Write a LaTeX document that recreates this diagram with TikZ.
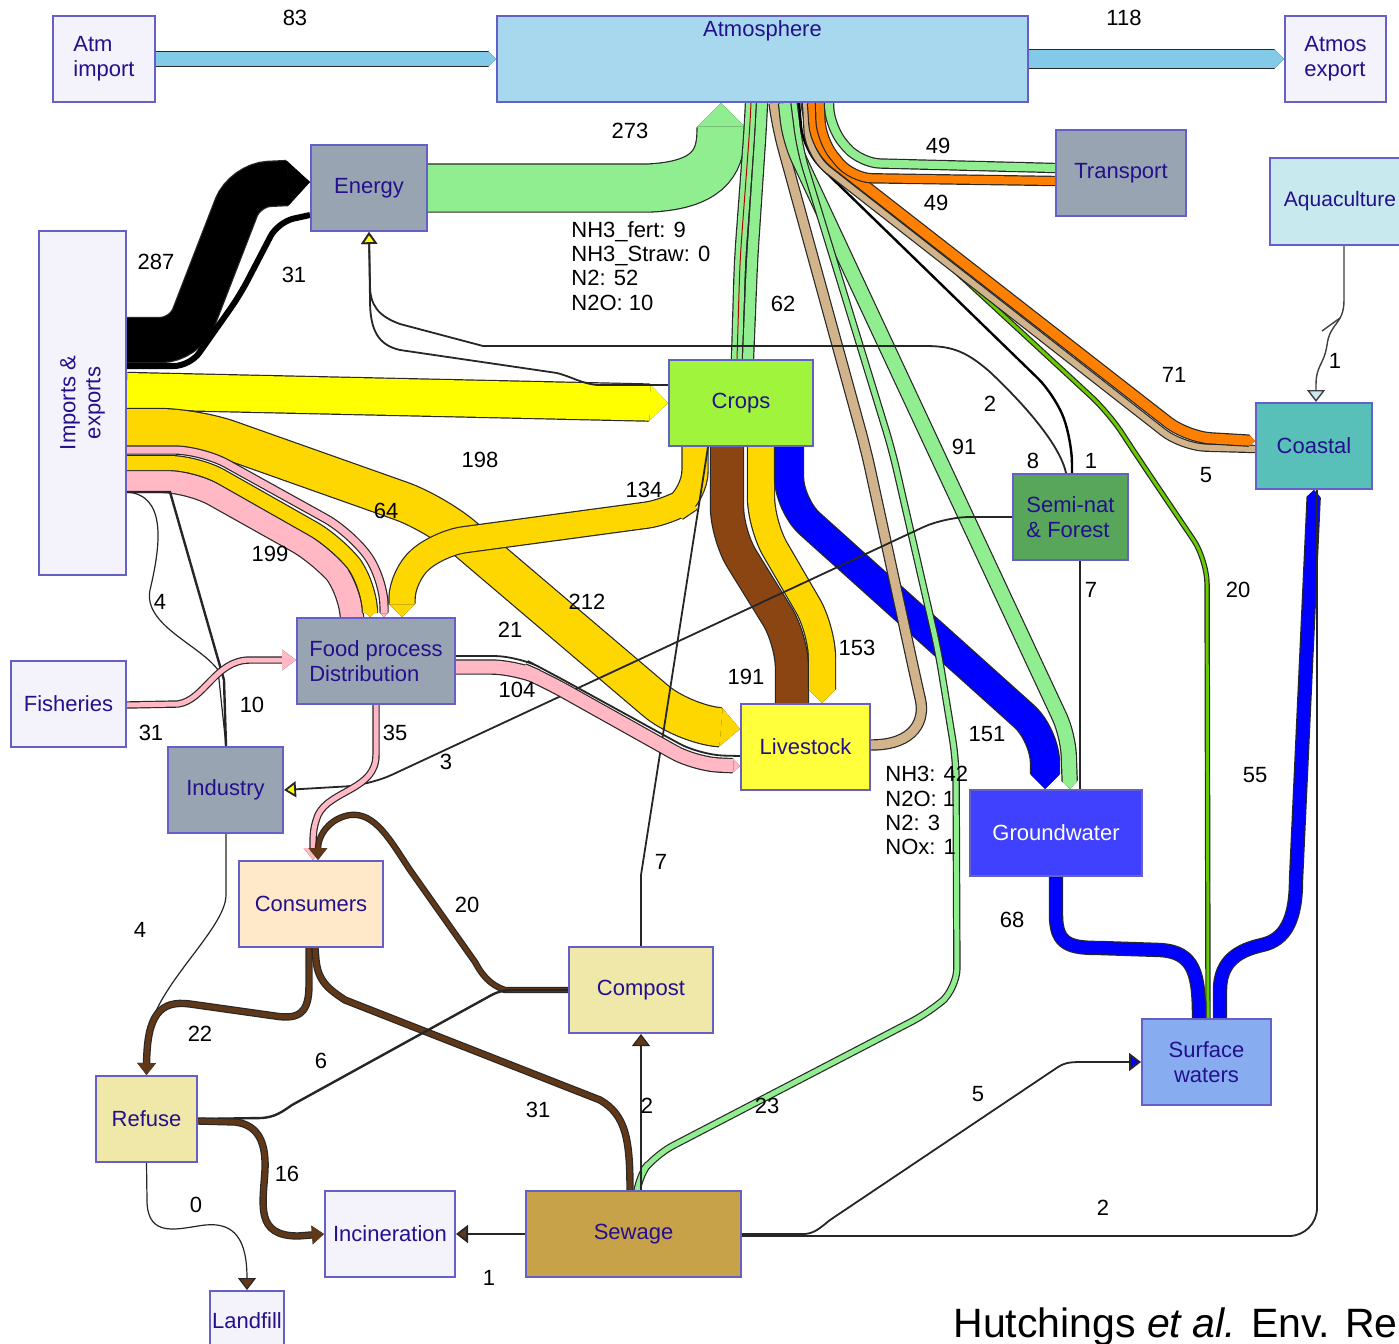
\documentclass[tikz,border=0pt]{standalone}
\usepackage{fontspec}
\setmainfont{Liberation Sans}
\usetikzlibrary{arrows.meta}
\newcommand{\fsz}{\fontsize{11}{12.5}\selectfont}
\definecolor{bordc}{RGB}{100,96,200}
\definecolor{txtc}{RGB}{36,16,140}
\definecolor{lav}{RGB}{244,242,250}
\definecolor{atmf}{RGB}{168,216,238}
\definecolor{grayf}{RGB}{152,164,178}
\definecolor{aquaf}{RGB}{200,234,238}
\definecolor{cropf}{RGB}{160,245,60}
\definecolor{coastf}{RGB}{88,192,184}
\definecolor{semif}{RGB}{88,166,90}
\definecolor{livef}{RGB}{255,255,60}
\definecolor{gwf}{RGB}{64,64,255}
\definecolor{consf}{RGB}{255,233,200}
\definecolor{compf}{RGB}{240,232,168}
\definecolor{surff}{RGB}{136,172,240}
\definecolor{sewf}{RGB}{200,162,72}
\definecolor{atmb}{RGB}{130,202,232}
\definecolor{lgr}{RGB}{144,238,144}
\definecolor{yel}{RGB}{255,255,0}
\definecolor{gld}{RGB}{255,215,0}
\definecolor{pnk}{RGB}{255,184,196}
\definecolor{brn}{RGB}{139,69,19}
\definecolor{blu}{RGB}{0,0,255}
\definecolor{tanc}{RGB}{210,180,140}
\definecolor{org}{RGB}{255,128,0}
\definecolor{ygr}{RGB}{102,204,0}
\definecolor{dbr}{RGB}{96,56,24}
\definecolor{edgec}{RGB}{40,40,40}
\pgfdeclarelayer{bg}
\pgfsetlayers{bg,main}
\begin{document}
\begin{tikzpicture}[x=0.5pt,y=-0.5pt,
 box/.style={draw=bordc, line width=1pt, text=txtc, font=\fsz, align=center, inner sep=1pt},
 num/.style={font=\fsz, text=black, inner sep=0pt},
 bnd/.style 2 args={draw=#1, line width=#2, preaction={draw=edgec, line width=#2+1.2pt}},
 bt/.style={-{Triangle[length=0pt 0.5, width=0pt 1, line width=0pt]}},
 thn/.style={draw=black!85, line width=0.9pt},
 yt/.style={-{Triangle[length=6pt, width=8pt, fill=yel]}},
 brt/.style={-{Triangle[length=6pt, width=9pt, fill=dbr]}}]
\useasboundingbox (0,0) rectangle (1399,1344);
\clip (0,0) rectangle (1399,1344);
% ---------- boxes ----------
\node[box, fill=lav, minimum width=51pt, minimum height=43pt, align=left] (atmimp) at (104,59) {Atm\\import};
\node[box, fill=atmf, minimum width=265.5pt, minimum height=43pt, label={[text=txtc, font=\fsz, anchor=center, yshift=-8pt]north:Atmosphere}] (atmos) at (762.5,59) {};
\node[box, fill=lav, minimum width=50.5pt, minimum height=43pt, align=left] (atmexp) at (1335.5,59) {Atmos\\export};
\node[box, fill=grayf, minimum width=58pt, minimum height=43pt] (energy) at (369,188) {Energy};
\node[box, fill=grayf, minimum width=65pt, minimum height=43pt] (transport) at (1121,173) {Transport};
\node[box, fill=aquaf, minimum width=70pt, minimum height=43.5pt, font=\fontsize{10.5}{12}\selectfont] (aqua) at (1340,201.5) {Aquaculture};
\node[box, fill=lav, minimum width=43.5pt, minimum height=172pt, label={[text=txtc, font=\fsz, rotate=90, align=center, anchor=center]center:{Imports \&\\exports}}] (imports) at (82.5,403) {};
\node[box, fill=cropf, minimum width=72pt, minimum height=43pt] (crops) at (741,403) {Crops};
\node[box, fill=coastf, minimum width=58pt, minimum height=43pt] (coastal) at (1314,446) {Coastal};
\node[box, fill=semif, minimum width=57.5pt, minimum height=43pt, align=left] (seminat) at (1070.5,517) {Semi-nat\\\& Forest};
\node[box, fill=grayf, minimum width=79pt, minimum height=43pt, align=left] (food) at (376,661) {Food process\\Distribution};
\node[box, fill=lav, minimum width=57.5pt, minimum height=43pt] (fisheries) at (68.5,704) {Fisheries};
\node[box, fill=livef, minimum width=64.5pt, minimum height=43pt] (livestock) at (805.5,747) {Livestock};
\node[box, fill=grayf, minimum width=57.5pt, minimum height=43pt] (industry) at (225.5,790) {Industry};
\node[box, fill=gwf, text=white, minimum width=86pt, minimum height=43pt] (groundwater) at (1056,833) {Groundwater};
\node[box, fill=consf, minimum width=72pt, minimum height=43pt] (consumers) at (311,904) {Consumers};
\node[box, fill=compf, minimum width=72pt, minimum height=43pt] (compost) at (641,990) {Compost};
\node[box, fill=surff, minimum width=64.5pt, minimum height=43pt] (surface) at (1206.5,1062) {Surface\\waters};
\node[box, fill=compf, minimum width=50.5pt, minimum height=43pt] (refuse) at (146.5,1119) {Refuse};
\node[box, fill=lav, minimum width=65pt, minimum height=43pt] (incin) at (390,1234) {Incineration};
\node[box, fill=sewf, minimum width=107.5pt, minimum height=43pt] (sewage) at (633.5,1234) {Sewage};
\node[box, fill=lav, minimum width=36pt, minimum height=30pt] (landfill) at (247,1321) {Landfill};
% ---------- flows ----------
\begin{pgfonlayer}{bg}
\fill[white] (0,0) rectangle (1399,1344);
% atmosphere import/export
\draw[bnd={atmb}{7pt}, bt] (atmimp.east) -- (atmos.west);
\draw[bnd={atmb}{9pt}, bt] (atmos.east) -- (atmexp.west);
% energy to atmosphere
\draw[bnd={lgr}{23.5pt}, bt] (energy.east) -- (650,188) .. controls (705,185) and (721,165) .. (721,132) -- (atmos.south -| 721,0);
% imports to energy
\draw[bnd={black}{22pt}, bt, rounded corners=12pt] (imports.east |- 0,340) -- (185,340) -- (245,185) -- (energy.west |- 0,182);
\draw[black, line width=3pt, rounded corners=8pt] (imports.east |- 0,366) -- (190,366) -- (240,295) -- (278,222) -- (energy.west |- 0,215);
% imports to crops
\draw[bnd={yel}{18pt}, bt] (imports.east |- 0,391) -- (crops.west |- 0,403);
% imports to livestock
\draw[bnd={gld}{19pt}, bt, rounded corners=18pt] (imports.east |- 0,428) -- (195,428) -- (435,513) -- (683,724) -- (livestock.west |- 0,729);
% imports to food
\draw[bnd={pnk}{11pt}, bt, rounded corners=14pt] (imports.east |- 0,481) -- (190,481) -- (322,555) -- (352,592) -- (food.north -| 352,0);
\draw[bnd={gld}{7pt}, bt, rounded corners=14pt] (imports.east |- 0,463) -- (197,463) -- (338,543) -- (370,585) -- (food.north -| 370,0);
\draw[bnd={pnk}{3.5pt}, bt, rounded corners=14pt] (imports.east |- 0,450) -- (202,450) -- (350,532) -- (384,578) -- (food.north -| 384,0);
% crops outputs
\draw[bnd={gld}{12.5pt}, bt, rounded corners=12pt] (crops.south -| 695,0) -- (695,495) -- (670,512) -- (440,543) -- (402,575) -- (food.north -| 402,0);
\draw[bnd={brn}{16pt}, rounded corners=14pt] (crops.south -| 727,0) -- (727,535) -- (792,640) -- (livestock.north -| 792,0);
\draw[bnd={gld}{13pt}, bt, rounded corners=14pt] (crops.south -| 761,0) -- (761,525) -- (822,630) -- (livestock.north -| 822,0);
\draw[bnd={blu}{14pt}, bt, rounded corners=14pt] (crops.south -| 789,0) -- (789,505) -- (1045,735) -- (groundwater.north -| 1045,0);
\draw[bnd={lgr}{5pt}, rounded corners=10pt] (crops.north -| 737,0) -- (740,260) -- (750,125) -- (atmos.south -| 751,0);
\draw[red!70!black, line width=0.5pt, rounded corners=10pt] (crops.north -| 737,0) -- (740,260) -- (750,125) -- (atmos.south -| 751,0);
\draw[bnd={lgr}{5pt}, rounded corners=10pt] (crops.north -| 748,0) -- (752,260) -- (761,125) -- (atmos.south -| 762,0);
% livestock to atmosphere
\draw[bnd={tanc}{4.5pt}, rounded corners=10pt] (livestock.east |- 0,745) .. controls (915,745) and (925,720) .. (916,680) -- (866,450) -- (778,130) -- (atmos.south -| 774,0);
% atmosphere deposition flows
\draw[bnd={lgr}{7pt}, bt, rounded corners=10pt] (atmos.south -| 786,0) -- (790,140) -- (1068,735) -- (groundwater.north -| 1070,0);
\draw[bnd={lgr}{2.5pt}, rounded corners=10pt] (atmos.south -| 794,0) -- (800,150) -- (892,450) -- (938,650) -- (956,760) -- (957,988) -- (930,1012) -- (655,1155) -- (636,1180) -- (sewage.north -| 636,0);
\draw[black, line width=1.2pt, rounded corners=12pt] (atmos.south -| 799,0) -- (803,150) -- (1055,395) -- (1072,440) -- (seminat.north -| 1072,0);
\draw[bnd={ygr}{1.5pt}, rounded corners=12pt] (atmos.south -| 803,0) -- (808,135) -- (1109,413) -- (1133,450) -- (1207,560) -- (1208,995) -- (surface.north -| 1208,0);
\draw[bnd={tanc}{3pt}, rounded corners=12pt] (atmos.south -| 806,0) -- (809,155) -- (1182,447) -- (coastal.west |- 0,449);
\draw[bnd={org}{5pt}, bt, rounded corners=12pt] (atmos.south -| 813,0) -- (816,148) -- (1187,437) -- (coastal.west |- 0,441);
\draw[bnd={org}{4pt}, rounded corners=10pt] (atmos.south -| 820,0) -- (821,140) -- (852,178) -- (transport.west |- 0,181);
\draw[bnd={lgr}{4pt}, rounded corners=10pt] (atmos.south -| 829,0) -- (830,128) -- (860,163) -- (transport.west |- 0,168);
% water flows
\draw[bnd={blu}{6pt}] (groundwater.south -| 1056,0) -- (1056,915) .. controls (1056,945) and (1070,948) .. (1100,948) -- (1160,950) .. controls (1195,952) and (1199,975) .. (surface.north -| 1199,0);
\draw[bnd={blu}{6pt}, bt] (surface.north -| 1220,0) -- (1220,990) .. controls (1220,960) and (1240,950) .. (1262,945) .. controls (1285,940) and (1296,920) .. (1296,880) -- (coastal.south);
% thin connectors
\draw[thn, yt] (crops.west |- 0,385) -- (597,385) .. controls (580,383) and (575,378) .. (557,373) -- (400,350) .. controls (378,345) and (370,330) .. (370,300) -- (energy.south);
\draw[thn, yt] (seminat.north -| 1066,0) .. controls (1060,445) and (1025,405) .. (990,372) .. controls (965,350) and (950,346) .. (925,346) -- (483,346) -- (400,324) .. controls (378,316) and (370,305) .. (370,285) -- (energy.south);
\draw[thn] (compost.north) -- (641,875) -- (crops.south -| 708,0);
\draw[thn, yt, rounded corners=12pt] (seminat.west) -- (945,517) -- (370,785) -- (industry.east |- 0,790);
\draw[thn] (seminat.south -| 1080,0) -- (groundwater.north -| 1080,0);
\draw[thn, line width=1.2pt] (imports.east |- 0,492) -- (170,492) -- (224,680) -- (industry.north -| 226,0);
\draw[thn, line width=0.6pt] (imports.east |- 0,492) .. controls (165,495) and (162,540) .. (150,590) .. controls (143,625) and (200,645) .. (218,670) -- (industry.north -| 226,0);
\draw[thn, line width=0.6pt] (industry.south -| 226,0) -- (226,895) .. controls (226,930) and (150,990) .. (148,1040) -- (refuse.north);
% food, consumers and waste
\draw[bnd={pnk}{6.5pt}, bt, rounded corners=12pt] (food.east |- 0,667) -- (515,667) -- (545,680) -- (695,764) -- (livestock.west |- 0,766);
\draw[thn, rounded corners=12pt] (food.east |- 0,656) -- (518,656) -- (549,672) -- (700,755) -- (livestock.west |- 0,756);
\draw[bnd={pnk}{2.5pt}, -{Triangle[length=7pt, width=10pt, fill=pnk]}] (fisheries.east |- 0,705) -- (178,704) .. controls (205,700) and (215,660) .. (250,660) -- (food.west |- 0,660);
\draw[bnd={pnk}{2.5pt}, -{Triangle[length=6pt, width=9pt, fill=tanc]}] (food.south -| 376,0) -- (376,755) .. controls (376,790) and (330,790) .. (318,815) .. controls (313,828) and (313,835) .. (consumers.north -| 313,0);
\draw[bnd={dbr}{2pt}, brt] (compost.west) -- (505,990) .. controls (490,985) and (482,975) .. (475,962) -- (410,870) .. controls (390,840) and (375,812) .. (350,815) .. controls (330,818) and (318,835) .. (consumers.north -| 318,0);
\draw[bnd={dbr}{2.5pt}, brt] (consumers.south -| 309,0) -- (309,985) .. controls (309,1012) and (300,1020) .. (275,1016) -- (190,1004) .. controls (160,1000) and (147,1015) .. (refuse.north);
\draw[bnd={dbr}{2.5pt}] (consumers.south -| 315,0) -- (316,960) .. controls (318,982) and (330,990) .. (345,1000) -- (600,1100) .. controls (626,1115) and (630,1140) .. (sewage.north -| 630,0);
\draw[thn, line width=1.2pt] (refuse.east |- 0,1119) -- (262,1118) .. controls (275,1117) and (282,1112) .. (292,1105) -- (488,997) .. controls (498,991) and (505,990) .. (515,990) -- (compost.west);
\draw[bnd={dbr}{2.5pt}, brt] (refuse.east |- 0,1121) -- (235,1122) .. controls (260,1125) and (266,1145) .. (265,1170) .. controls (263,1205) and (255,1236) .. (298,1236) -- (incin.west);
\draw[thn, line width=0.6pt, brt] (refuse.south) -- (147,1200) .. controls (147,1240) and (180,1228) .. (205,1225) .. controls (235,1222) and (247,1240) .. (landfill.north);
\draw[thn, brt] (sewage.west) -- (incin.east);
\draw[thn, line width=0.6pt, brt] (sewage.north -| 641,0) -- (compost.south);
\draw[thn, -{Triangle[length=6pt, width=9pt, fill=blu]}] (sewage.east |- 0,1234) -- (805,1234) .. controls (815,1233) and (820,1228) .. (830,1220) -- (1058,1067) .. controls (1066,1062) and (1072,1062) .. (1085,1062) -- (surface.west);
\draw[thn, rounded corners=14pt] (sewage.east |- 0,1236) -- (1317,1236) -- (coastal.south -| 1317,0);
\draw[draw=black!75, line width=0.7pt, -{Triangle[length=6pt, width=9pt, fill=aquaf]}] (aqua.south -| 1344,0) -- (1344,300) .. controls (1344,325) and (1330,322) .. (1327,345) .. controls (1324,365) and (1316,365) .. (1316,385) -- (coastal.north -| 1316,0);
\draw[black!75, line width=0.7pt] (1322,331) -- (1340,318);
\end{pgfonlayer}
% ---------- labels ----------
\foreach \t/\x/\y [count=\i] in {83/295/18, 118/1124/18, 273/630/131, 287/156/262, 31/294/275, 49/938/146, 49/936/203, 62/783/304, 71/1174/375, 1/1335/361, 2/990/404, 8/1033/461, 1/1091/461, 5/1206/475, 91/964/447, 198/480/460, 134/644/490, 64/386/511, 199/270/554, 4/160/602, 212/587/602, 21/510/630, 7/1091/590, 20/1238/590, 153/857/648, 191/746/677, 104/517/690, 10/252/705, 31/151/733, 35/395/733, 151/987/734, 3/446/762, 55/1255/775, 7/661/862, 20/467/905, 68/1012/920, 4/140/930, 22/200/1034, 6/321/1061, 5/978/1094, 31/538/1110, 2/647/1106, 23/767/1106, 16/287/1174, 0/196/1205, 2/1103/1208, 1/489/1278}
  \node[num] (n\i) at (\x,\y) {\t};
\node[num, align=left, anchor=north west, font=\fontsize{11}{12.15}\selectfont] (emis1) at (571,221) {NH3\_fert: 9\\NH3\_Straw: 0\\N2: 52\\N2O: 10};
\node[num, align=left, anchor=north west, font=\fontsize{11}{12.15}\selectfont] (emis2) at (885,766) {NH3: 42\\N2O: 1\\N2: 3\\NOx: 1};
\node[anchor=base west, inner sep=0pt, font=\fontsize{20.5}{23}\selectfont] (cite) at (953,1337) {Hutchings \textit{et al.} Env. Re};
\end{tikzpicture}
\end{document}
